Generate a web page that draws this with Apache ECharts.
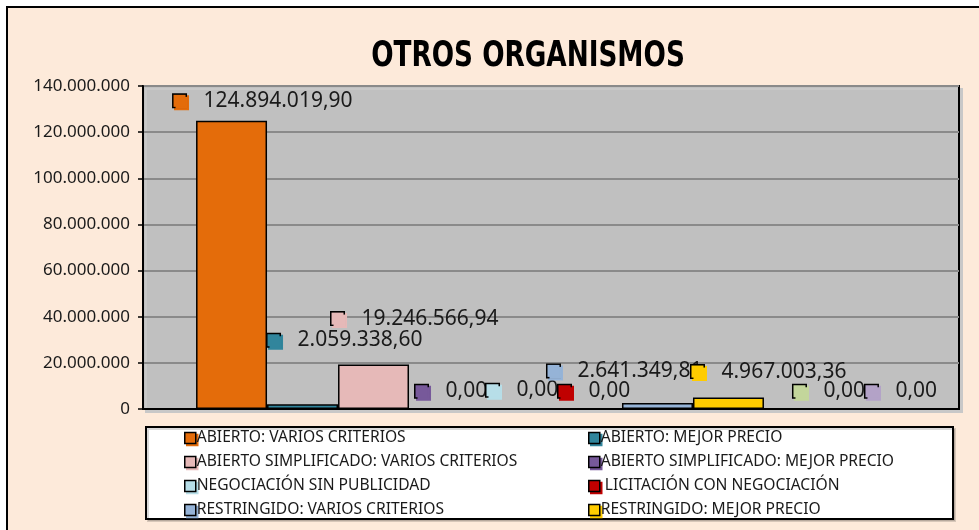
<!DOCTYPE html>
<html><head><meta charset="utf-8">
<script src="https://cdn.jsdelivr.net/npm/echarts@6/dist/echarts.min.js"></script>
<style>html,body{margin:0;padding:0;background:#fff}#c{width:979px;height:530px}</style>
</head><body><div id="c"></div>
<script>
const categories = [''];
const seriesNames = ['ABIERTO: VARIOS CRITERIOS','ABIERTO: MEJOR PRECIO','ABIERTO SIMPLIFICADO: VARIOS CRITERIOS','ABIERTO SIMPLIFICADO: MEJOR PRECIO','NEGOCIACIÓN SIN PUBLICIDAD',' LICITACIÓN CON NEGOCIACIÓN','RESTRINGIDO: VARIOS CRITERIOS','RESTRINGIDO: MEJOR PRECIO','DIÁLOGO COMPETITIVO','ASOCIACIÓN PARA LA INNOVACIÓN'];
const seriesValues = [124894019.90, 2059338.60, 19246566.94, 0, 0, 0, 2641349.81, 4967003.36, 0, 0];
const yTicks = [0, 20000000, 40000000, 60000000, 80000000, 100000000, 120000000, 140000000];
const legendCol1 = [0, 2, 4, 6];
const legendCol2 = [1, 3, 5, 7];
const titleText = 'OTROS ORGANISMOS';

const colors = ['#E46C0A','#31859C','#E6B9B8','#77599A','#B7DEE8','#C00000','#95B3D7','#FFCC00','#C3D69B','#B3A2C7'];
// label offsets: [dx from bar centre to key left, dy from bar top to label centre]
const labelOffsets = [[-58,-20],[-35,-64],[-42,-46],[-29,-17],[-29,-18],[-28,-17],[-110,-32],[-37,-26],[-6,-17],[-5,-17]];

function fmtEs(v){
  const p = v.toFixed(2).split('.');
  return p[0].replace(/\B(?=(\d{3})+(?!\d))/g,'.') + ',' + p[1];
}
function fmtAxis(v){
  return String(Math.round(v)).replace(/\B(?=(\d{3})+(?!\d))/g,'.');
}

const FONT = "'Noto Sans', 'Open Sans', sans-serif";
const chart = echarts.init(document.getElementById('c'), null, {renderer:'canvas'});

const series = seriesNames.map((name, i) => ({
  name: name,
  type: 'bar',
  data: [seriesValues[i]],
  barGap: '0%',
  barCategoryGap: '13%',
  itemStyle: {color: colors[i], borderColor: '#000', borderWidth: 1.5},
  label: {
    show: true,
    position: 'top',
    distance: 0,
    align: 'left',
    verticalAlign: 'middle',
    offset: labelOffsets[i],
    formatter: () => '{k|}{v|' + fmtEs(seriesValues[i]) + '}',
    rich: {
      k: {width: 12, height: 12, backgroundColor: colors[i], borderColor: '#000', borderWidth: 1.5,
          shadowColor: colors[i], shadowOffsetX: 2, shadowOffsetY: 2, shadowBlur: 0, verticalAlign: 'middle'},
      v: {fontFamily: FONT, fontSize: 21, color: '#1a1a1a', padding: [0,0,0,18], verticalAlign: 'middle'}
    }
  },
  emphasis: {disabled: true},
  animation: false
}));

function legendCfg(idx, left){
  return {
    orient: 'vertical',
    left: left, top: 430,
    padding: 0,
    itemWidth: 11, itemHeight: 11,
    itemGap: 8,
    icon: 'rect',
    selectedMode: false,
    data: idx.map(i => ({name: seriesNames[i], itemStyle: {color: colors[i], borderColor: '#000', borderWidth: 1.5,
      shadowColor: colors[i], shadowOffsetX: 2, shadowOffsetY: 2, shadowBlur: 0}})),
    textStyle: {fontFamily: FONT, fontSize: 15.6, lineHeight: 15, color: '#1a1a1a', padding: [0,0,0,-4]}
  };
}

chart.setOption({
  backgroundColor: '#ffffff',
  animation: false,
  graphic: [
    {type: 'rect', z: -10, shape: {x: 7, y: 7, width: 1000, height: 600},
     style: {fill: '#FDEADA', stroke: '#000', lineWidth: 2}},
    {type: 'rect', z: -5, shape: {x: 146, y: 427, width: 807, height: 92},
     style: {fill: '#ffffff', stroke: '#000', lineWidth: 2, shadowColor: 'rgba(0,0,0,0.15)', shadowOffsetX: 2, shadowOffsetY: 2}},
    {type: 'text', z: 10, x: 528, y: 57, scaleX: 0.835, scaleY: 1,
     style: {text: titleText, fill: '#000', textAlign: 'center', textVerticalAlign: 'middle',
       font: "bold 35px 'DejaVu Sans Condensed', 'DejaVu Sans', sans-serif"}}
  ],
  legend: [legendCfg(legendCol1, 184), legendCfg(legendCol2, 588)],
  grid: {
    left: 143, right: 20, top: 86, bottom: 121,
    show: true, backgroundColor: '#C0C0C0', borderColor: '#000', borderWidth: 2,
    shadowColor: '#c8c8c8', shadowOffsetX: 3, shadowOffsetY: 3, shadowBlur: 0
  },
  xAxis: {
    type: 'category', data: categories,
    axisLine: {show: true, lineStyle: {color: '#000', width: 2}},
    axisTick: {show: false}, axisLabel: {show: false}
  },
  yAxis: {
    type: 'value', min: yTicks[0], max: yTicks[yTicks.length-1], interval: yTicks[1]-yTicks[0],
    axisLine: {show: true, lineStyle: {color: '#000', width: 2}},
    axisTick: {show: true, length: 5, lineStyle: {color: '#000', width: 1.5}},
    axisLabel: {fontFamily: FONT, fontSize: 17, color: '#1a1a1a', margin: 13, formatter: fmtAxis},
    splitLine: {show: true, lineStyle: {color: '#8a8a8a', width: 2}}
  },
  series: series
});
</script></body></html>
